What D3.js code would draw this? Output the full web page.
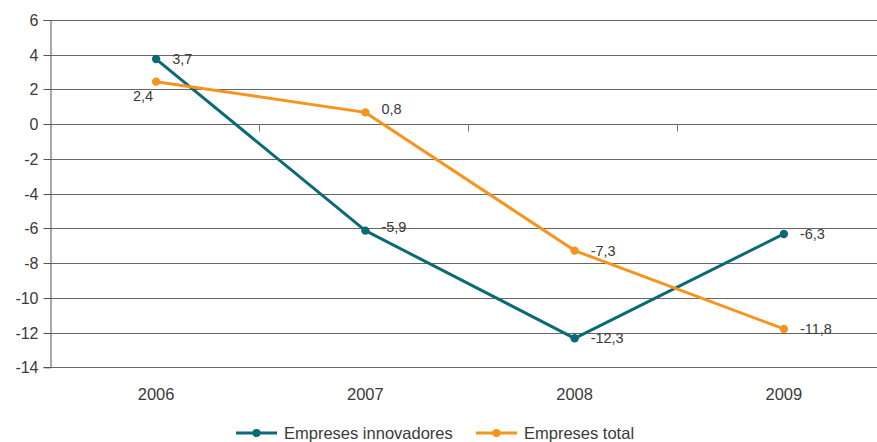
<!DOCTYPE html>
<html><head><meta charset="utf-8">
<script src="https://cdn.jsdelivr.net/npm/d3@7"></script>
<style>body{margin:0;background:#fff}svg{display:block}text{font-family:"Liberation Sans",Arial,sans-serif;fill:#3a3a3a}</style>
</head><body><svg id="c" width="877" height="442"></svg>
<script>
const categories = ["2006","2007","2008","2009"];
const innovValues = [3.75, -6.13, -12.33, -6.32];
const innovLabels = ["3,7","-5,9","-12,3","-6,3"];
const totalValues = [2.45, 0.68, -7.28, -11.79];
const totalLabels = ["2,4","0,8","-7,3","-11,8"];
const yTicks = [6,4,2,0,-2,-4,-6,-8,-10,-12,-14];
const seriesNames = ["Empreses innovadores","Empreses total"];
const colors = ["#0a6a76","#f7941d"];
const totalLabelPlace = ["belowLeft","right","right","right"];

const svg = d3.select("#c");
const W = 877;
const plotLeft = 50, bandLeft = 51.5, bandRight = 888.5;
const x = d3.scaleBand().domain(categories).range([bandLeft, bandRight]);
const y = d3.scaleLinear().domain([-14, 6]).range([367.3, 20]);

// gridlines
svg.append("g").selectAll("line").data(yTicks).join("line")
  .attr("x1", plotLeft).attr("x2", W)
  .attr("y1", d => Math.round(y(d)) + 0.5).attr("y2", d => Math.round(y(d)) + 0.5)
  .attr("stroke", "#666").attr("stroke-width", 1);

// y axis
const ya = svg.append("g").attr("transform", `translate(${plotLeft + 0.5},0)`)
  .call(d3.axisLeft(y).tickValues(yTicks).tickSize(7).tickPadding(5).tickFormat(d => d));
ya.select(".domain").attr("stroke", "#555");
ya.selectAll(".tick line").attr("stroke", "#555");
ya.selectAll("text").style("font-size", "16px").attr("fill", "#3a3a3a");
ya.selectAll(".tick").attr("transform", d => `translate(0,${Math.round(y(d)) + 0.5})`);

// x category boundary ticks on zero line
const y0 = Math.round(y(0)) + 0.5;
svg.append("g").selectAll("line").data(categories.slice(1)).join("line")
  .attr("x1", d => Math.round(x(d)) - 1.5).attr("x2", d => Math.round(x(d)) - 1.5)
  .attr("y1", y0).attr("y2", y0 + 7).attr("stroke", "#777");

// x labels
svg.append("g").selectAll("text").data(categories).join("text")
  .attr("x", d => x(d) + x.bandwidth() / 2).attr("y", 400)
  .attr("text-anchor", "middle").style("font-size", "16.5px").text(d => d);

const cx = d => x(d) + x.bandwidth() / 2;
const line = d3.line().x((d, i) => cx(categories[i])).y(d => y(d));

[[innovValues, innovLabels, null], [totalValues, totalLabels, totalLabelPlace]].forEach(([vals, labs, place], si) => {
  svg.append("path").datum(vals).attr("d", line).attr("fill", "none")
    .attr("stroke", colors[si]).attr("stroke-width", 3).attr("stroke-linejoin", "round");
  svg.append("g").selectAll("circle").data(vals).join("circle")
    .attr("cx", (d, i) => cx(categories[i])).attr("cy", d => y(d)).attr("r", 4.2)
    .attr("fill", colors[si]);
  svg.append("g").selectAll("text").data(vals).join("text")
    .attr("x", (d, i) => cx(categories[i]) + ((place && place[i] === "belowLeft") ? -3 : 16))
    .attr("y", (d, i) => y(d) + ((place && place[i] === "belowLeft") ? 14 : (i === 1 ? -3.5 : 0)))
    .attr("dy", "0.35em")
    .attr("text-anchor", (d, i) => (place && place[i] === "belowLeft") ? "end" : "start")
    .style("font-size", "14.5px").text((d, i) => labs[i]);
});

// legend
const legendX = [236, 476];
seriesNames.forEach((n, i) => {
  const g = svg.append("g").attr("transform", `translate(${legendX[i]},433)`);
  g.append("line").attr("x1", 0).attr("x2", 41).attr("stroke", colors[i]).attr("stroke-width", 3);
  g.append("circle").attr("cx", 20.5).attr("r", 4).attr("fill", colors[i]);
  g.append("text").attr("x", 48).attr("dy", "0.35em").style("font-size", "16.5px").text(n);
});
</script></body></html>
